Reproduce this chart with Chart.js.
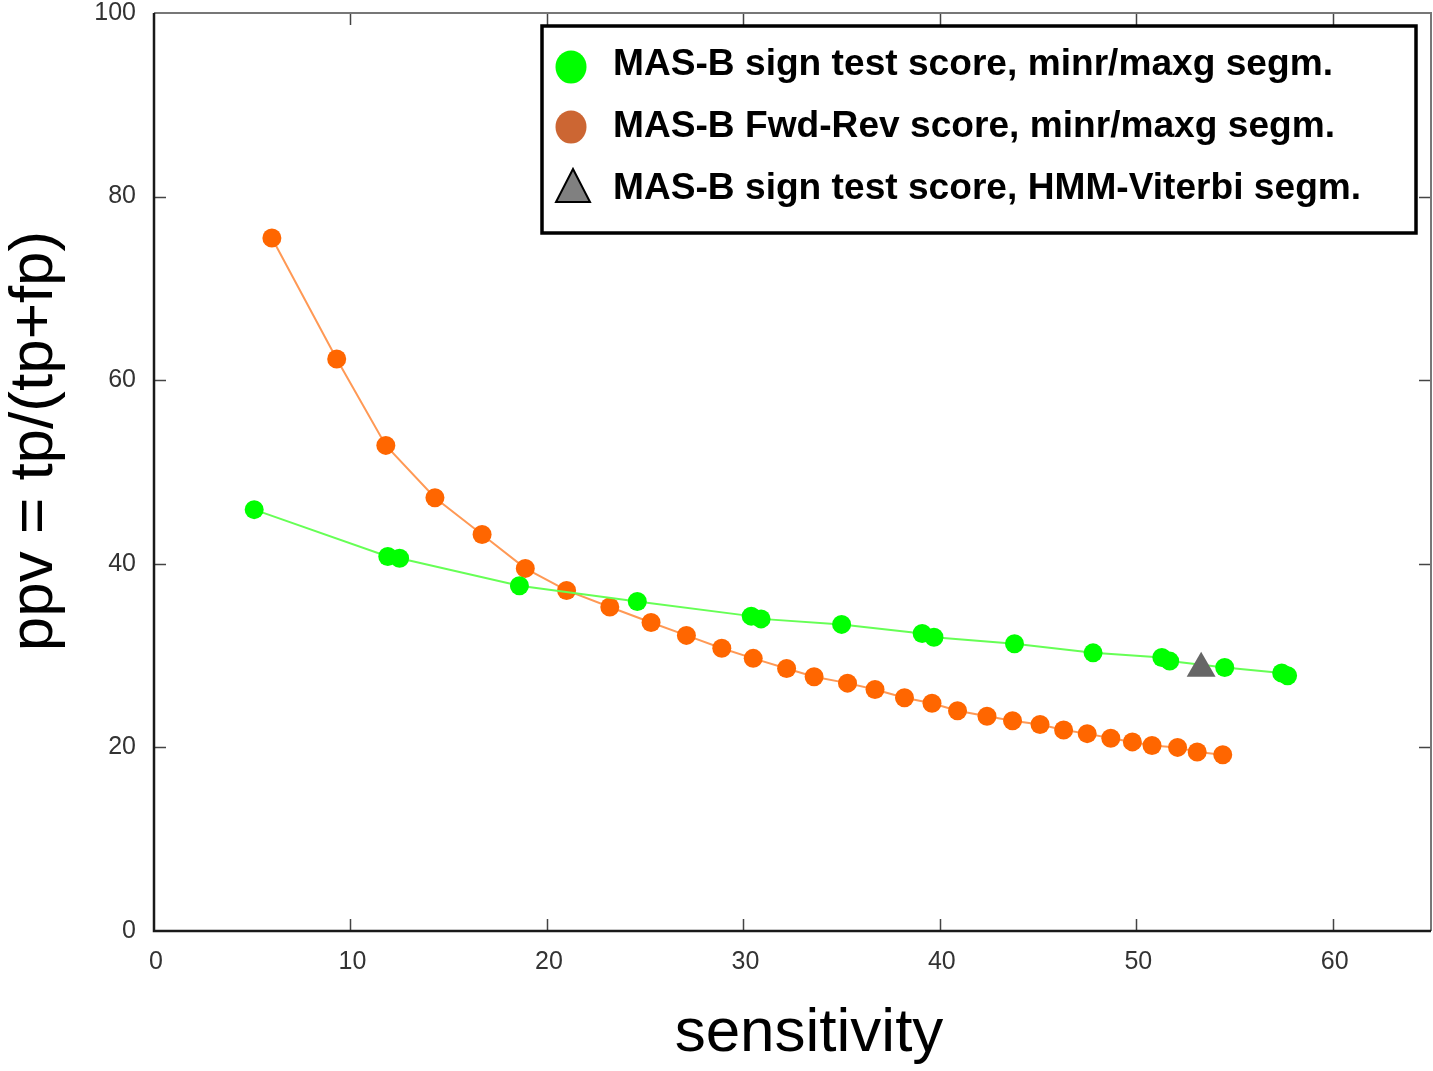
<!DOCTYPE html>
<html>
<head>
<meta charset="utf-8">
<script src="https://cdn.jsdelivr.net/npm/chart.js@4.4.1/dist/chart.umd.min.js"></script>
<style>
  html, body { margin: 0; padding: 0; background: #fff; }
  canvas { display: block; }
</style>
</head>
<body>
<canvas id="chart" width="1433" height="1071"></canvas>
<script>
// sign test score, minr/maxg segmentation
const signSens = [5.1, 11.9, 12.5, 18.6, 24.6, 30.4, 30.9, 35.0, 39.1, 39.7, 43.8, 47.8, 51.3, 51.7, 54.5, 57.4, 57.7];
const signPpv  = [45.9, 40.8, 40.6, 37.6, 35.9, 34.3, 34.0, 33.4, 32.4, 32.0, 31.3, 30.3, 29.8, 29.4, 28.7, 28.1, 27.8];

// Fwd-Rev score, minr/maxg segmentation
const fwdSens = [6.0, 9.3, 11.8, 14.3, 16.7, 18.9, 21.0, 23.2, 25.3, 27.1, 28.9, 30.5, 32.2, 33.6, 35.3, 36.7,
                 38.2, 39.6, 40.9, 42.4, 43.7, 45.1, 46.3, 47.5, 48.7, 49.8, 50.8, 52.1, 53.1, 54.4];
const fwdPpv  = [75.5, 62.3, 52.9, 47.2, 43.2, 39.5, 37.1, 35.3, 33.6, 32.2, 30.8, 29.7, 28.6, 27.7, 27.0, 26.3,
                 25.4, 24.8, 24.0, 23.4, 22.9, 22.5, 21.9, 21.5, 21.0, 20.6, 20.2, 20.0, 19.5, 19.2];

// sign test score, HMM-Viterbi segmentation
const hmmSens = [53.3];
const hmmPpv  = [28.6];

const seriesLabels = [
  'MAS-B sign test score, minr/maxg segm.',
  'MAS-B Fwd-Rev score, minr/maxg segm.',
  'MAS-B sign test score, HMM-Viterbi segm.'
];

const xTicks = [0, 10, 20, 30, 40, 50, 60];
const yTicks = [0, 20, 40, 60, 80, 100];
const xTitle = 'sensitivity';
const yTitle = 'ppv = tp/(tp+fp)';

const pts = (xs, ys) => xs.map((v, i) => ({ x: v, y: ys[i] }));

// gnuplot-like frame: inward ticks, mirrored on top/right, labels and titles
const framePlugin = {
  id: 'frame',
  beforeDatasetsDraw(chart) {
    const { ctx, chartArea: a, scales: { x, y } } = chart;
    ctx.save();
    ctx.strokeStyle = '#444';
    ctx.lineWidth = 1.5;
    ctx.beginPath();
    xTicks.forEach(v => {
      if (v === 0) return;
      const px = Math.round(x.getPixelForValue(v)) + 0.5;
      ctx.moveTo(px, a.bottom); ctx.lineTo(px, a.bottom - 12);
      ctx.moveTo(px, a.top); ctx.lineTo(px, a.top + 12);
    });
    yTicks.forEach(v => {
      if (v === 0 || v === 100) return;
      const py = Math.round(y.getPixelForValue(v)) + 0.5;
      ctx.moveTo(a.left, py); ctx.lineTo(a.left + 12, py);
      ctx.moveTo(a.right, py); ctx.lineTo(a.right - 12, py);
    });
    ctx.stroke();

    ctx.strokeStyle = '#777';
    ctx.lineWidth = 2;
    ctx.beginPath();
    ctx.moveTo(a.left, a.top); ctx.lineTo(a.right, a.top); ctx.lineTo(a.right, a.bottom);
    ctx.stroke();
    ctx.strokeStyle = '#1a1a1a';
    ctx.lineWidth = 2.5;
    ctx.beginPath();
    ctx.moveTo(a.left, a.top); ctx.lineTo(a.left, a.bottom); ctx.lineTo(a.right, a.bottom);
    ctx.stroke();

    // tick labels
    ctx.fillStyle = '#333';
    ctx.font = '25px "Liberation Sans", Arial, sans-serif';
    ctx.textBaseline = 'middle';
    ctx.textAlign = 'right';
    yTicks.forEach(v => ctx.fillText(String(v), a.left - 18, y.getPixelForValue(v)));
    ctx.textAlign = 'center';
    xTicks.forEach(v => ctx.fillText(String(v), x.getPixelForValue(v) + 2, a.bottom + 31));

    // axis titles
    ctx.fillStyle = '#000';
    ctx.font = '62px "Liberation Sans", Arial, sans-serif';
    ctx.textAlign = 'center';
    ctx.textBaseline = 'alphabetic';
    ctx.fillText(xTitle, 809, 1051);
    ctx.translate(52, 441);
    ctx.rotate(-Math.PI / 2);
    ctx.fillText(yTitle, 0, 0);
    ctx.restore();
  }
};

const legendPlugin = {
  id: 'boxLegend',
  afterDraw(chart) {
    const { ctx } = chart;
    const ds = chart.data.datasets;
    ctx.save();
    ctx.fillStyle = '#fff';
    ctx.fillRect(541, 25, 876, 209);
    ctx.strokeStyle = '#000';
    ctx.lineWidth = 3.5;
    ctx.strokeRect(542, 26, 874, 207);

    const rowY = [67, 127, 188];
    ctx.fillStyle = '#00ff00';
    ctx.beginPath(); ctx.ellipse(571, rowY[0], 15.5, 16.5, 0, 0, Math.PI * 2); ctx.fill();
    ctx.fillStyle = '#cc6633';
    ctx.beginPath(); ctx.ellipse(571, rowY[1], 15.5, 16.5, 0, 0, Math.PI * 2); ctx.fill();
    ctx.fillStyle = '#808080';
    ctx.strokeStyle = '#000';
    ctx.lineWidth = 2;
    ctx.beginPath();
    ctx.moveTo(573, 169); ctx.lineTo(590, 202); ctx.lineTo(556, 202); ctx.closePath();
    ctx.fill(); ctx.stroke();

    ctx.fillStyle = '#000';
    ctx.font = 'bold 37px "Liberation Sans", Arial, sans-serif';
    ctx.textAlign = 'left';
    ctx.textBaseline = 'alphabetic';
    const w = ctx.measureText(ds[0].label).width;
    const sx = 720 / w;
    ds.forEach((d, i) => {
      ctx.save();
      ctx.translate(613, [75, 137, 199][i]);
      ctx.scale(sx, 1);
      ctx.fillText(d.label, 0, 0);
      ctx.restore();
    });
    ctx.restore();
  }
};

new Chart(document.getElementById('chart'), {
  type: 'scatter',
  data: {
    datasets: [
      {
        label: seriesLabels[0],
        data: pts(signSens, signPpv),
        showLine: true,
        borderColor: '#66ff55',
        borderWidth: 2,
        pointBackgroundColor: '#00ff00',
        pointBorderWidth: 0,
        pointRadius: 9.5,
        pointHoverRadius: 9.5,
        order: 1
      },
      {
        label: seriesLabels[1],
        data: pts(fwdSens, fwdPpv),
        showLine: true,
        borderColor: '#ff9955',
        borderWidth: 2,
        pointBackgroundColor: '#ff6600',
        pointBorderWidth: 0,
        pointRadius: 9.5,
        pointHoverRadius: 9.5,
        order: 2
      },
      {
        label: seriesLabels[2],
        data: pts(hmmSens, hmmPpv),
        showLine: false,
        pointStyle: 'triangle',
        pointBackgroundColor: '#666666',
        pointBorderWidth: 0,
        pointRadius: 16.7,
        pointHoverRadius: 16.7,
        order: 0
      }
    ]
  },
  options: {
    responsive: false,
    animation: false,
    devicePixelRatio: 1,
    layout: { autoPadding: false, padding: { top: 13, right: 2, left: 0, bottom: 0 } },
    plugins: {
      legend: { display: false },
      tooltip: { enabled: false }
    },
    scales: {
      x: {
        type: 'linear',
        min: 0,
        max: 65,
        afterBuildTicks: s => { s.ticks = xTicks.map(v => ({ value: v })); },
        afterFit: s => { s.height = 140; },
        grid: { display: false, drawTicks: false },
        border: { display: false },
        ticks: { display: false }
      },
      y: {
        type: 'linear',
        min: 0,
        max: 100,
        afterBuildTicks: s => { s.ticks = yTicks.map(v => ({ value: v })); },
        afterFit: s => { s.width = 154; },
        grid: { display: false, drawTicks: false },
        border: { display: false },
        ticks: { display: false }
      }
    }
  },
  plugins: [framePlugin, legendPlugin]
});
</script>
</body>
</html>
